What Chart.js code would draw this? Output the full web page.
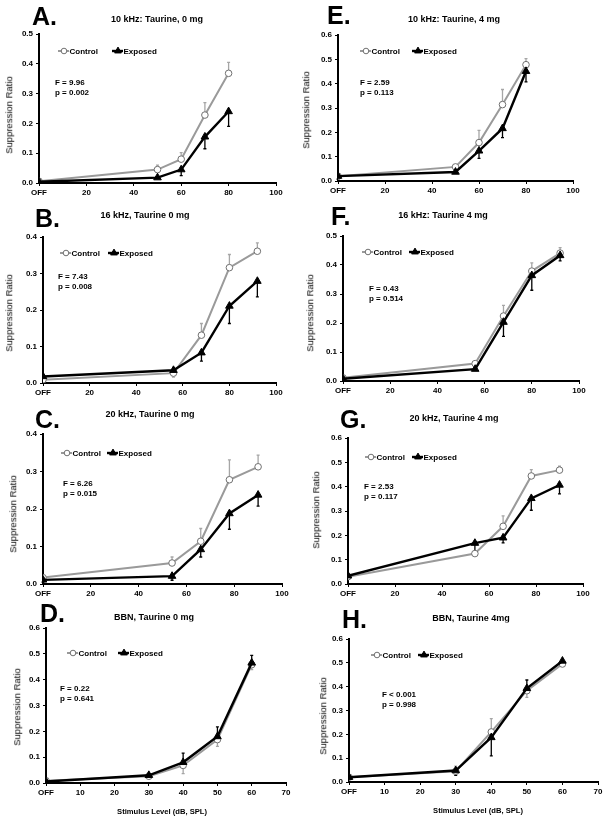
<!DOCTYPE html>
<html>
<head>
<meta charset="utf-8">
<script src="https://cdn.jsdelivr.net/npm/chart.js@4.4.1/dist/chart.umd.min.js"></script>
<style>
body { margin: 0; background: #fff; width: 610px; height: 822px; position: relative; overflow: hidden;
       font-family: Arial, "Liberation Sans", sans-serif; }
canvas { position: absolute; }
.t { position: absolute; white-space: nowrap; color: #000; line-height: 1; will-change: transform; }
.letter { font-weight: bold; font-size: 25px; }
.title { font-weight: bold; font-size: 9px; transform: translate(-50%, -50%); }
.ylab { font-size: 9.5px; transform: translate(-50%, -50%) rotate(-90deg); }
.stat { font-weight: bold; font-size: 8px; transform: translateY(-50%); }
.xlab { font-weight: bold; font-size: 7.6px; transform: translate(-50%, -50%); }
</style>
</head>
<body>
<script>
// stimulus levels (0 = OFF)
const xA = [0, 50, 60, 70, 80];
const xB = [0, 56, 68, 80, 92];
const xC = [0, 54, 66, 78, 90];
const xD = [0, 30, 40, 50, 60];

// suppression ratio, control / exposed, with error (+ up, - down)
const ctrlA = [0.006, 0.045, 0.08, 0.228, 0.368];
const ctrlErrA = [0, 0.015, 0.022, 0.042, 0.037];
const expA = [0.004, 0.018, 0.045, 0.155, 0.24];
const expErrA = [0, 0, -0.02, -0.04, -0.05];

const ctrlE = [0.02, 0.058, 0.158, 0.314, 0.478];
const ctrlErrE = [0, 0.008, 0.05, 0.062, 0.025];
const expE = [0.02, 0.037, 0.124, 0.216, 0.451];
const expErrE = [-0.012, -0.005, -0.031, -0.038, -0.044];

const ctrlB = [0.009, 0.027, 0.131, 0.316, 0.361];
const ctrlErrB = [0, -0.011, 0.032, 0.036, 0.023];
const expB = [0.018, 0.035, 0.083, 0.211, 0.279];
const expErrB = [0, 0, -0.023, -0.048, -0.043];

const ctrlF = [0.011, 0.06, 0.224, 0.379, 0.441];
const ctrlErrF = [0, 0, 0.037, 0.028, 0.019];
const expF = [0.008, 0.041, 0.203, 0.364, 0.433];
const expErrF = [0, 0, -0.049, -0.051, -0.019];

const ctrlC = [0.017, 0.056, 0.114, 0.278, 0.3125];
const ctrlErrC = [0, 0.016, 0.034, 0.053, 0.031];
const expC = [0.011, 0.021, 0.092, 0.188, 0.2375];
const expErrC = [-0.006, -0.011, -0.02, -0.042, -0.03];

const ctrlG = [0.03, 0.125, 0.237, 0.444, 0.468];
const ctrlErrG = [0, 0, 0.043, 0.026, 0.016];
const expG = [0.034, 0.168, 0.19, 0.352, 0.407];
const expErrG = [0, -0.033, -0.021, -0.049, -0.037];

const ctrlD = [0.009, 0.026, 0.068, 0.168, 0.458];
const ctrlErrD = [0, 0, -0.032, -0.026, -0.019];
const expD = [0.006, 0.03, 0.08, 0.18, 0.465];
const expErrD = [0, 0, 0.036, 0.037, 0.029];

const ctrlH = [0.02, 0.045, 0.21, 0.383, 0.495];
const ctrlErrH = [0, 0.022, 0.056, -0.028, 0];
const expH = [0.02, 0.048, 0.187, 0.393, 0.508];
const expErrH = [0, -0.02, -0.077, 0.035, 0];

const panels = [
  { letter: 'A.', title: '10 kHz: Taurine, 0 mg', x: xA, ctrl: ctrlA, ctrlErr: ctrlErrA, exp: expA, expErr: expErrA,
    F: 'F = 9.96', p: 'p = 0.002', area: [39, 34, 276, 183], yMax: 0.5, xMax: 100, xStep: 20,
    letterPos: [32, 25], titlePos: [157, 19], yTitle: [9, 115], legend: [58, 51, 112], stat: [55, 83] },
  { letter: 'E.', title: '10 kHz: Taurine, 4 mg', x: xA, ctrl: ctrlE, ctrlErr: ctrlErrE, exp: expE, expErr: expErrE,
    F: 'F = 2.59', p: 'p = 0.113', area: [338, 35, 573, 181], yMax: 0.6, xMax: 100, xStep: 20,
    letterPos: [327, 24], titlePos: [454, 19], yTitle: [306, 110], legend: [360, 51, 412], stat: [360, 83] },
  { letter: 'B.', title: '16 kHz, Taurine 0 mg', x: xB, ctrl: ctrlB, ctrlErr: ctrlErrB, exp: expB, expErr: expErrB,
    F: 'F = 7.43', p: 'p = 0.008', area: [43, 237, 276, 383], yMax: 0.4, xMax: 100, xStep: 20,
    letterPos: [35, 227], titlePos: [145, 215], yTitle: [9, 313], legend: [60, 253, 108], stat: [58, 277] },
  { letter: 'F.', title: '16 kHz: Taurine 4 mg', x: xB, ctrl: ctrlF, ctrlErr: ctrlErrF, exp: expF, expErr: expErrF,
    F: 'F = 0.43', p: 'p = 0.514', area: [343, 236, 579, 381], yMax: 0.5, xMax: 100, xStep: 20,
    letterPos: [331, 225], titlePos: [443, 215], yTitle: [310, 313], legend: [362, 252, 409], stat: [369, 289] },
  { letter: 'C.', title: '20 kHz, Taurine 0 mg', x: xC, ctrl: ctrlC, ctrlErr: ctrlErrC, exp: expC, expErr: expErrC,
    F: 'F = 6.26', p: 'p = 0.015', area: [43, 434, 282, 584], yMax: 0.4, xMax: 100, xStep: 20,
    letterPos: [35, 428], titlePos: [150, 414], yTitle: [13, 514], legend: [61, 453, 107], stat: [63, 484] },
  { letter: 'G.', title: '20 kHz, Taurine 4 mg', x: xC, ctrl: ctrlG, ctrlErr: ctrlErrG, exp: expG, expErr: expErrG,
    F: 'F = 2.53', p: 'p = 0.117', area: [348, 438, 583, 584], yMax: 0.6, xMax: 100, xStep: 20,
    letterPos: [340, 428], titlePos: [454, 418], yTitle: [316, 510], legend: [365, 457, 412], stat: [364, 487] },
  { letter: 'D.', title: 'BBN, Taurine 0 mg', x: xD, ctrl: ctrlD, ctrlErr: ctrlErrD, exp: expD, expErr: expErrD,
    F: 'F = 0.22', p: 'p = 0.641', area: [46, 628, 286, 783], yMax: 0.6, xMax: 70, xStep: 10,
    letterPos: [40, 622], titlePos: [154, 617], yTitle: [17, 707], legend: [67, 653, 118], stat: [60, 689],
    xTitle: [162, 812] },
  { letter: 'H.', title: 'BBN, Taurine 4mg', x: xD, ctrl: ctrlH, ctrlErr: ctrlErrH, exp: expH, expErr: expErrH,
    F: 'F < 0.001', p: 'p = 0.998', area: [349, 639, 598, 782], yMax: 0.6, xMax: 70, xStep: 10,
    letterPos: [342, 628], titlePos: [471, 618], yTitle: [323, 716], legend: [371, 655, 418], stat: [382, 695],
    xTitle: [478, 811] }
];

const CTRL_COLOR = '#9a9a9a';
const EXP_COLOR = '#000';
const PAD_L = 36, PAD_T = 12, PAD_R = 20, PAD_B = 20;

function addText(cls, text, left, top) {
  const d = document.createElement('div');
  d.className = 't ' + cls;
  d.textContent = text;
  d.style.left = left + 'px';
  d.style.top = top + 'px';
  document.body.appendChild(d);
  return d;
}

const errorBars = {
  id: 'errorBars',
  beforeDatasetsDraw(chart) {
    const { ctx, scales: { x, y } } = chart;
    chart.data.datasets.forEach(ds => {
      ctx.save();
      ctx.strokeStyle = ds.errColor;
      ctx.lineWidth = 1.3;
      ds.data.forEach((pt, i) => {
        const e = ds.err[i];
        if (!e) return;
        const px = x.getPixelForValue(pt.x);
        const py0 = y.getPixelForValue(pt.y);
        const py1 = y.getPixelForValue(pt.y + e);
        ctx.beginPath();
        ctx.moveTo(px, py0);
        ctx.lineTo(px, py1);
        ctx.moveTo(px - 1.5, py1);
        ctx.lineTo(px + 1.5, py1);
        ctx.stroke();
      });
      ctx.restore();
    });
  }
};

panels.forEach(p => {
  const [L, T, R, B] = p.area;
  const cLeft = L - PAD_L, cTop = T - PAD_T;
  const canvas = document.createElement('canvas');
  canvas.width = R - L + PAD_L + PAD_R;
  canvas.height = B - T + PAD_T + PAD_B;
  canvas.style.left = cLeft + 'px';
  canvas.style.top = cTop + 'px';
  document.body.appendChild(canvas);

  // legend drawn inside the plot, like the original
  const legendPlugin = {
    id: 'panelLegend',
    afterDraw(chart) {
      const ctx = chart.ctx;
      const ly = p.legend[1] - cTop;
      const items = [
        { x: p.legend[0] - cLeft, ds: chart.data.datasets[0], text: 'Control' },
        { x: p.legend[2] - cLeft, ds: chart.data.datasets[1], text: 'Exposed' }
      ];
      items.forEach(it => {
        ctx.save();
        ctx.strokeStyle = it.ds.borderColor;
        ctx.lineWidth = it.ds.borderWidth;
        ctx.beginPath();
        ctx.moveTo(it.x, ly);
        ctx.lineTo(it.x + 11, ly);
        ctx.stroke();
        ctx.fillStyle = it.ds.pointBackgroundColor;
        ctx.strokeStyle = it.ds.pointBorderColor;
        ctx.lineWidth = it.ds.pointBorderWidth;
        Chart.helpers.drawPoint(ctx, {
          pointStyle: it.ds.pointStyle, radius: it.ds.pointRadius - 0.5, rotation: 0,
          borderWidth: it.ds.pointBorderWidth
        }, it.x + 6, ly);
        ctx.fillStyle = '#000';
        ctx.font = 'bold 8px Arial, "Liberation Sans", sans-serif';
        ctx.textBaseline = 'middle';
        ctx.fillText(it.text, it.x + 11.5, ly + 0.5);
        ctx.restore();
      });
    }
  };

  new Chart(canvas.getContext('2d'), {
    type: 'line',
    data: {
      datasets: [
        {
          label: 'Control',
          data: p.x.map((v, i) => ({ x: v, y: p.ctrl[i] })),
          err: p.ctrlErr, errColor: '#a6a6a6',
          borderColor: CTRL_COLOR, borderWidth: 2,
          pointStyle: 'circle', pointRadius: 3.3,
          pointBackgroundColor: '#fff', pointBorderColor: '#707070', pointBorderWidth: 1,
          order: 1
        },
        {
          label: 'Exposed',
          data: p.x.map((v, i) => ({ x: v, y: p.exp[i] })),
          err: p.expErr, errColor: '#000',
          borderColor: EXP_COLOR, borderWidth: 2.4,
          pointStyle: 'triangle', pointRadius: 4.4,
          pointBackgroundColor: '#000', pointBorderColor: '#000', pointBorderWidth: 1,
          order: 0
        }
      ]
    },
    options: {
      responsive: false,
      animation: false,
      devicePixelRatio: 1,
      layout: { padding: { left: 0, top: PAD_T, right: PAD_R, bottom: 0 } },
      plugins: { legend: { display: false }, tooltip: { enabled: false } },
      scales: {
        x: {
          type: 'linear', min: 0, max: p.xMax,
          afterFit: s => { s.height = PAD_B; },
          border: { color: '#000', width: 2 },
          grid: { drawOnChartArea: false, drawTicks: true, tickLength: 3, color: '#000', lineWidth: 1 },
          ticks: {
            stepSize: p.xStep, maxRotation: 0, padding: 2, color: '#000',
            font: { family: 'Arial, "Liberation Sans", sans-serif', size: 8, weight: 'bold' },
            callback: v => v === 0 ? 'OFF' : v
          }
        },
        y: {
          min: 0, max: p.yMax,
          afterFit: s => { s.width = PAD_L; },
          border: { color: '#000', width: 2 },
          grid: { drawOnChartArea: false, drawTicks: true, tickLength: 3, color: '#000', lineWidth: 1 },
          ticks: {
            stepSize: 0.1, padding: 3, color: '#000',
            font: { family: 'Arial, "Liberation Sans", sans-serif', size: 8, weight: 'bold' },
            callback: v => v.toFixed(1)
          }
        }
      }
    },
    plugins: [errorBars, legendPlugin]
  });

  addText('letter', p.letter, p.letterPos[0], p.letterPos[1] - 21);
  addText('title', p.title, p.titlePos[0], p.titlePos[1]);
  addText('ylab', 'Suppression Ratio', p.yTitle[0], p.yTitle[1]);
  addText('stat', p.F, p.stat[0], p.stat[1]);
  addText('stat', p.p, p.stat[0], p.stat[1] + 9.5);
  if (p.xTitle) addText('xlab', 'Stimulus Level (dB, SPL)', p.xTitle[0], p.xTitle[1]);
});
</script>
</body>
</html>
